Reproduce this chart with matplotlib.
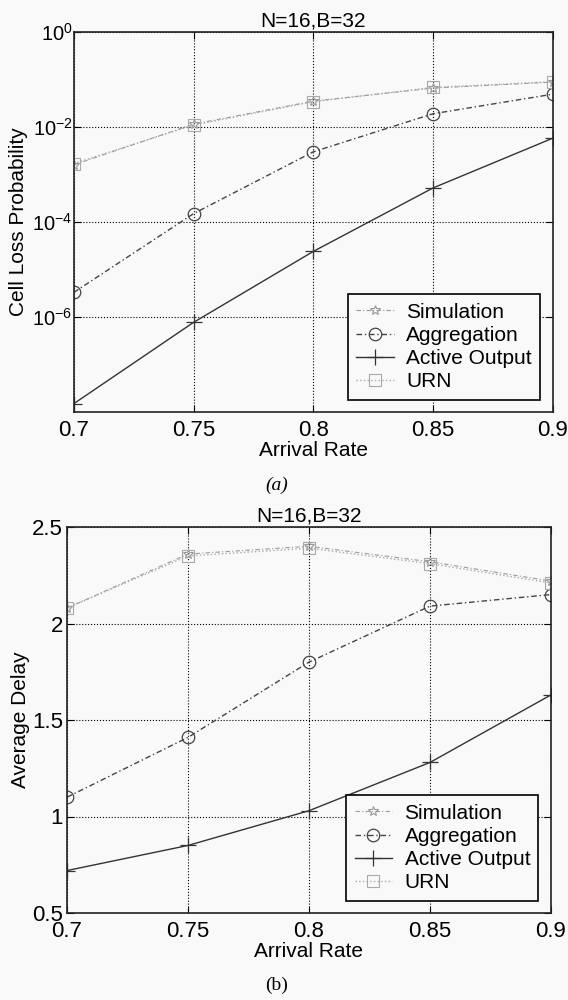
import numpy as np
import matplotlib
matplotlib.use("Agg")
from matplotlib import pyplot as plt
from matplotlib.ticker import FixedLocator, NullLocator

plt.rcParams['font.family'] = ['Liberation Sans', 'DejaVu Sans']
plt.rcParams['mathtext.fontset'] = 'custom'
plt.rcParams['mathtext.rm'] = 'Liberation Sans'

rate = [0.7, 0.75, 0.8, 0.85, 0.9]
labels = ["Simulation", "Aggregation", "Active Output", "URN"]

# (a) cell loss probability
loss_sim = [1.6e-3, 1.15e-2, 3.5e-2, 6.6e-2, 8.8e-2]
loss_agg = [3.3e-6, 1.5e-4, 3.0e-3, 1.9e-2, 4.9e-2]
loss_act = [1.5e-8, 7.7e-7, 2.4e-5, 5.2e-4, 5.8e-3]
loss_urn = [1.7e-3, 1.1e-2, 3.4e-2, 6.8e-2, 9.0e-2]

# (b) average delay
delay_sim = [2.08, 2.36, 2.40, 2.32, 2.22]
delay_agg = [1.10, 1.41, 1.80, 2.09, 2.15]
delay_act = [0.72, 0.85, 1.03, 1.28, 1.63]
delay_urn = [2.08, 2.35, 2.39, 2.31, 2.21]

styles = [
    dict(color='#9a9a9a', ls=(0, (4, 2, 1, 2)), lw=0.8, marker='*', ms=7, mfc='none', mew=0.8),
    dict(color='#444444', ls=(0, (4, 2, 1, 2)), lw=1.0, marker='o', ms=9, mfc='none', mew=0.9),
    dict(color='#333333', ls='-', lw=1.0, marker='+', ms=11, mew=0.9),
    dict(color='#a8a8a8', ls=':', lw=1.0, marker='s', ms=8, mfc='none', mew=0.8),
]

fig = plt.figure(figsize=(5.68, 10), dpi=100)
fig.patch.set_facecolor('#f9f9f9')
ax1 = fig.add_axes([0.130, 0.588, 0.843, 0.380])
ax2 = fig.add_axes([0.118, 0.087, 0.852, 0.386])


def style_axes(ax):
    ax.set_facecolor('#f9f9f9')
    ax.grid(True, color='black', ls=':', lw=0.8)
    ax.tick_params(direction='in', labelsize=16, length=5, top=True, right=True)
    ax.tick_params(axis='x', pad=6)
    ax.tick_params(axis='y', pad=3)
    for s in ax.spines.values():
        s.set_linewidth(1.2)
        s.set_color('#222222')
    ax.set_xlim(0.7, 0.9)
    ax.xaxis.set_major_locator(FixedLocator(rate))
    ax.set_xticklabels(['0.7', '0.75', '0.8', '0.85', '0.9'])
    ax.set_xlabel('Arrival Rate', fontsize=15, labelpad=0)
    ax.set_title('N=16,B=32', fontsize=15, pad=4)


def add_legend(ax):
    leg = ax.legend(loc='lower right', fontsize=15, fancybox=False, edgecolor='black',
                    borderaxespad=0.6, handlelength=1.8, handletextpad=0.6,
                    labelspacing=0.2, borderpad=0.4)
    leg.get_frame().set_linewidth(1.2)
    leg.get_frame().set_facecolor('#f9f9f9')
    leg.get_frame().set_alpha(1)


series1 = [loss_sim, loss_agg, loss_act, loss_urn]
for vals, lab, st in zip(series1, labels, styles):
    ax1.semilogy(rate, vals, label=lab, **st)
ax1.set_ylim(1e-8, 1)
ax1.yaxis.set_major_locator(FixedLocator([1e-6, 1e-4, 1e-2, 1]))
ax1.yaxis.set_minor_locator(NullLocator())
ax1.set_yticklabels([r'$10^{-6}$', r'$10^{-4}$', r'$10^{-2}$', r'$10^{0}$'])
style_axes(ax1)
ax1.tick_params(axis='y', pad=1, labelsize=14.5)
ax1.set_ylabel('Cell Loss Probability', fontsize=15, labelpad=3)
add_legend(ax1)

series2 = [delay_sim, delay_agg, delay_act, delay_urn]
for vals, lab, st in zip(series2, labels, styles):
    ax2.plot(rate, vals, label=lab, **st)
ax2.set_ylim(0.5, 2.5)
ax2.yaxis.set_major_locator(FixedLocator([0.5, 1, 1.5, 2, 2.5]))
ax2.set_yticklabels(['0.5', '1', '1.5', '2', '2.5'])
style_axes(ax2)
ax2.set_ylabel('Average Delay', fontsize=15, labelpad=1)
add_legend(ax2)

fig.text(0.487, 0.515, '(a)', ha='center', va='center', fontsize=14,
         family='Liberation Serif', style='italic')
fig.text(0.487, 0.015, '(b)', ha='center', va='center', fontsize=14,
         family='Liberation Serif')

plt.savefig('out.png', dpi=100, facecolor=fig.get_facecolor())
